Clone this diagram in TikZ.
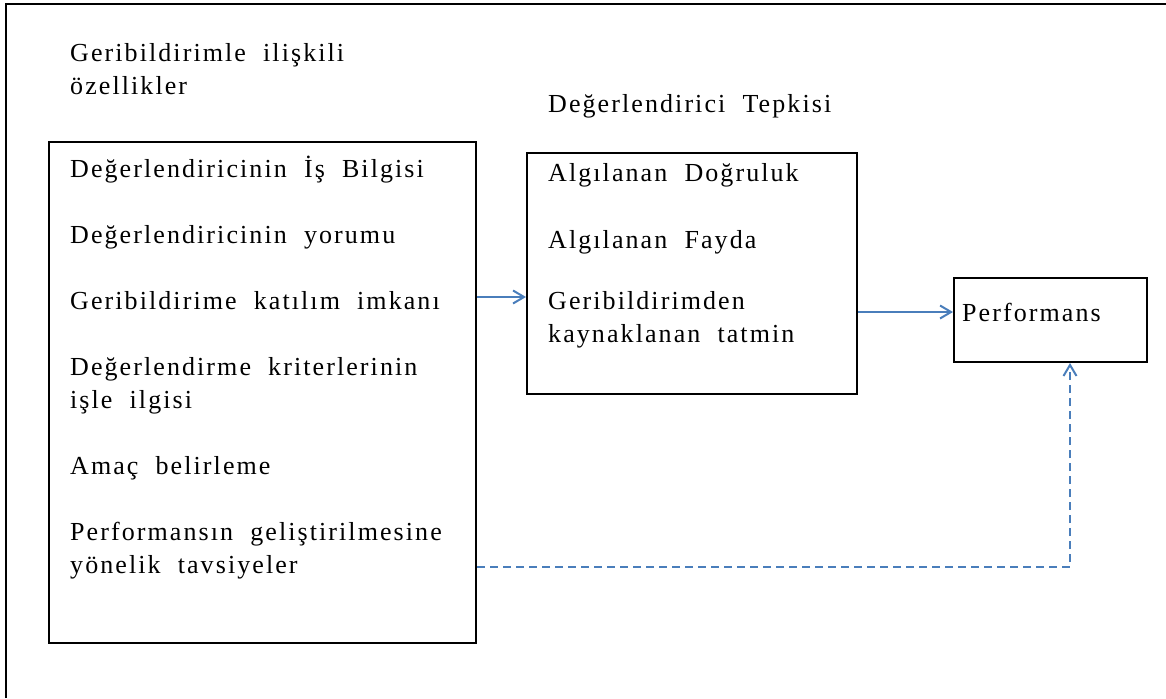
\documentclass[tikz,border=0pt]{standalone}
\usepackage{fontspec}
\setmainfont[LetterSpace=8,WordSpace=2]{Liberation Serif}
\usetikzlibrary{arrows.meta,calc}
\definecolor{flowblue}{RGB}{74,126,187}

\begin{document}
\begin{tikzpicture}[x=1pt,y=-1pt,
  every node/.style={font=\fontsize{26}{33}\selectfont, inner sep=0pt},
  % Khung chữ nhật của các khối
  box/.style={draw, line width=2pt, anchor=north west},
  % Văn bản căn trái theo đường chân chữ (dòng cuối)
  txt/.style={anchor=base west, align=left},
  flow/.style={draw=flowblue, line width=2pt,
    -{Straight Barb[length=11pt,width=13pt]}},
  flowdash/.style={flow, dash pattern=on 8pt off 5pt}
  ]
  \useasboundingbox (0,0) rectangle (1166,698);
  % Khung ngoài (chỉ cạnh trái và cạnh trên)
  \draw[line width=2.2pt] (6,698) -- (6,4) -- (1166,4);

  % Tiêu đề
  \node[txt] (headL) at (70,95) {Geribildirimle ilişkili\\özellikler};
  \node[txt] (headM) at (548,113) {Değerlendirici Tepkisi};

  % Các khối
  \node[box, minimum width=427pt, minimum height=501pt] (left) at (48,141) {};
  \node[box, minimum width=330pt, minimum height=241pt] (mid) at (526,152) {};
  \node[box, minimum width=193pt, minimum height=84pt] (perf) at (953,277) {};

  % Nội dung khối trái
  \node[txt] (listL) at (70,573) {Değerlendiricinin İş Bilgisi\\[33pt]
    Değerlendiricinin yorumu\\[33pt]
    Geribildirime katılım imkanı\\[33pt]
    Değerlendirme kriterlerinin\\
    işle ilgisi\\[33pt]
    Amaç belirleme\\[33pt]
    Performansın geliştirilmesine\\
    yönelik tavsiyeler};
  % Nội dung khối giữa
  \node[txt] (listM) at (548,342) {Algılanan Doğruluk\\[34pt]
    Algılanan Fayda\\[28pt]
    Geribildirimden\\
    kaynaklanan tatmin};
  \node[txt] (perfT) at (962,321) {Performans};

  % Các mũi tên
  \coordinate (a1) at (0,297);
  \coordinate (a2) at (0,312);
  \coordinate (turn) at (1070,567);
  \draw[flow] (left.east |- a1) -- (mid.west |- a1);
  \draw[flow] (mid.east |- a2) -- (perf.west |- a2);
  \draw[flowdash] (left.east |- turn) -- (turn) -- (perf.south -| turn);
\end{tikzpicture}
\end{document}
